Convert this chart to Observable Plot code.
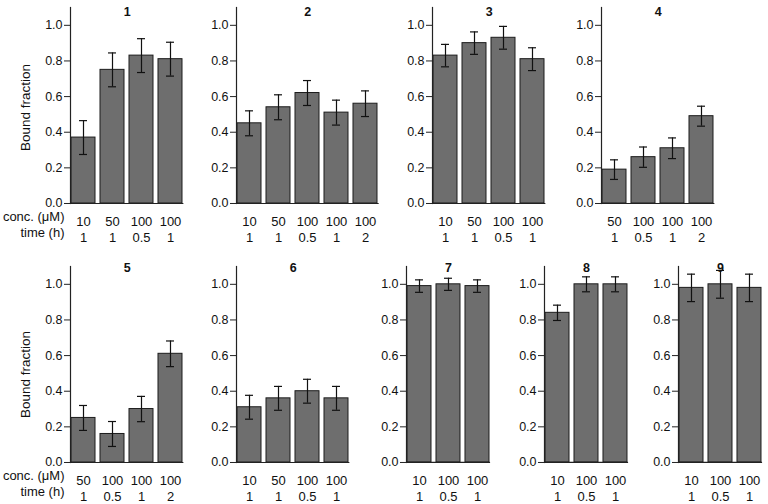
<!DOCTYPE html>
<html><head><meta charset="utf-8">
<script src="https://cdn.jsdelivr.net/npm/d3@7"></script>
<script src="https://cdn.jsdelivr.net/npm/@observablehq/plot@0.6"></script>
<style>
body{margin:0;background:#fff;}
#wrap{position:relative;width:768px;height:504px;overflow:hidden;}
.panel{position:absolute;}
.panel svg{max-width:none !important;}
</style></head><body><div id="wrap"></div>
<script>
const panelTitles = ["1","2","3","4","5","6","7","8","9"];
const concByPanel = [
  [10,50,100,100],
  [10,50,100,100,100],
  [10,50,100,100],
  [50,100,100,100],
  [50,100,100,100],
  [10,50,100,100],
  [10,100,100],
  [10,100,100],
  [10,100,100]
];
const timeByPanel = [
  [1,1,0.5,1],
  [1,1,0.5,1,2],
  [1,1,0.5,1],
  [1,0.5,1,2],
  [1,0.5,1,2],
  [1,1,0.5,1],
  [1,0.5,1],
  [1,0.5,1],
  [1,0.5,1]
];
const boundByPanel = [
  [0.37,0.75,0.83,0.81],
  [0.45,0.54,0.62,0.51,0.56],
  [0.83,0.90,0.93,0.81],
  [0.19,0.26,0.31,0.49],
  [0.25,0.16,0.30,0.61],
  [0.31,0.36,0.40,0.36],
  [0.99,1.00,0.99],
  [0.84,1.00,1.00],
  [0.98,1.00,0.98]
];
const errByPanel = [
  [0.095,0.095,0.095,0.095],
  [0.07,0.07,0.07,0.07,0.072],
  [0.063,0.063,0.064,0.064],
  [0.055,0.057,0.058,0.056],
  [0.07,0.07,0.071,0.072],
  [0.067,0.067,0.067,0.067],
  [0.035,0.034,0.035],
  [0.043,0.042,0.042],
  [0.077,0.078,0.077]
];
const yTicks = [0,0.2,0.4,0.6,0.8,1.0];
const yLabel = "Bound fraction";
const rowLabels = ["conc. (\u03bcM)","time (h)"];

const FONT = "'Liberation Sans', Arial, Helvetica, sans-serif";
const FSY = 12.5, FSX = 13;
// layout: [panel index, axis x, svg top, y-label shift, title shift]
const layout = [
  [0,70,0,2,0],[1,236,0,0,0],[2,432,0,0,0],[3,601,0,0,0],
  [4,70,259,10,-3],[5,236,259,0,-3],[6,406,259,0,-3],[7,544,259,0,-3],[8,678,259,0,-3]
];
const wrap = document.getElementById("wrap");

function panel(i, axisX, top, labShift, titleShift) {
  const n = boundByPanel[i].length;
  const data = boundByPanel[i].map((v,j)=>({k:String(j), v, e:errByPanel[i][j], c:concByPanel[i][j], t:timeByPanel[i][j]}));
  const first = axisX === 70;
  const ML = first ? 70 : 40, MR = 14;
  const step = 29.3, pi = 0.17, po = 0.02;
  const W = step*(n - pi + 2*po);
  const marks = [
    Plot.barY(data, {x:"k", y:"v", fill:"#6e6e6e", stroke:"#1c1c1c", strokeWidth:1}),
    Plot.ruleX(data, {x:"k", y1:d=>d.v-d.e, y2:d=>d.v+d.e, stroke:"#111", strokeWidth:1.2}),
    Plot.tickY(data, {x:"k", y:d=>d.v+d.e, inset:8, stroke:"#111", strokeWidth:1.2}),
    Plot.tickY(data, {x:"k", y:d=>d.v-d.e, inset:8, stroke:"#111", strokeWidth:1.2}),
    Plot.axisY({ticks:yTicks, tickFormat:d3.format(".1f"), tickSize:6, tickPadding:2, fontSize:FSY, stroke:"#222", label:null}),
    Plot.ruleY([0], {stroke:"#222", strokeWidth:1.2}),
    Plot.frame({anchor:"left", stroke:"#222", strokeWidth:1.2}),
    Plot.axisX({tickSize:0, tickPadding:13, tickFormat:k=>String(data[+k].c), fontSize:FSX, label:null}),
    Plot.axisX({tickSize:0, tickPadding:29, tickFormat:k=>String(data[+k].t), fontSize:FSX, label:null}),
    Plot.text([panelTitles[i]], {frameAnchor:"top", fontWeight:"bold", fontSize:12.5, dy:titleShift})
  ];
  if (first) {
    marks.push(
      Plot.text([yLabel], {frameAnchor:"left", textAnchor:"middle", dx:-45, dy:labShift, rotate:-90, fontSize:13.5}),
      Plot.text([rowLabels[0]], {frameAnchor:"bottom-left", dx:-6, dy:18, textAnchor:"end", fontSize:FSX}),
      Plot.text([rowLabels[1]], {frameAnchor:"bottom-left", dx:-6, dy:34, textAnchor:"end", fontSize:FSX})
    );
  }
  const totalW = ML + W + MR;
  const svg = Plot.plot({
    width: totalW, height: 245,
    marginLeft: ML, marginRight: MR, marginTop: 7, marginBottom: 42,
    style: {fontSize:FSX+"px", fontFamily:FONT, color:"#111", background:"transparent", overflow:"visible"},
    x: {domain:data.map(d=>d.k), paddingInner:pi, paddingOuter:po, axis:null},
    y: {domain:[0,1.1], axis:null},
    marks
  });
  const div = document.createElement("div");
  div.className = "panel";
  div.style.left = (axisX - ML) + "px";
  div.style.top = top + "px";
  div.style.width = Math.ceil(totalW) + "px";
  div.appendChild(svg);
  wrap.appendChild(div);
}
for (const [i, ax, top, ls, ts] of layout) panel(i, ax, top, ls, ts);
</script></body></html>
